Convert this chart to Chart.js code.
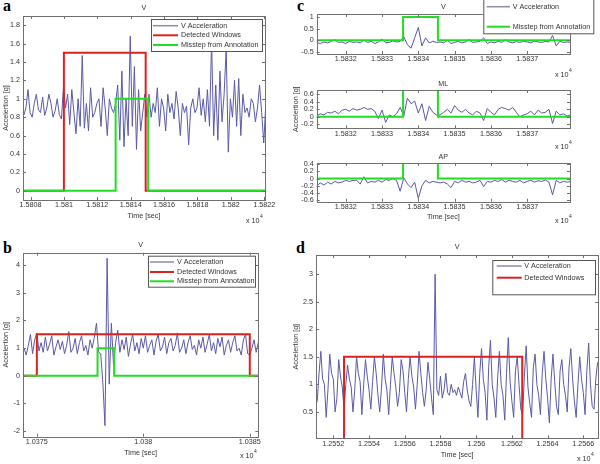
<!DOCTYPE html>
<html>
<head>
<meta charset="utf-8">
<script src="https://cdn.jsdelivr.net/npm/chart.js@4"></script>
<style>
  body { margin: 0; background: #fff; width: 600px; height: 464px; position: relative; overflow: hidden; }
  canvas { position: absolute; }
  .tag { position: absolute; font: bold 16px "Liberation Serif", "DejaVu Serif", serif; line-height: 16px; color: #000; }
</style>
</head>
<body>
<div class="tag" style="left:3px;top:-2px">a</div>
<div class="tag" style="left:3px;top:240px">b</div>
<div class="tag" style="left:297px;top:-2px">c</div>
<div class="tag" style="left:296px;top:240px">d</div>

<canvas id="chartA" width="280" height="228" style="left:0;top:0"></canvas>
<canvas id="chartB" width="280" height="227" style="left:0;top:237px"></canvas>
<canvas id="chartCV" width="310" height="80" style="left:290px;top:0"></canvas>
<canvas id="chartCML" width="310" height="74" style="left:290px;top:78px"></canvas>
<canvas id="chartCAP" width="310" height="77" style="left:290px;top:151px"></canvas>
<canvas id="chartD" width="310" height="228" style="left:290px;top:236px"></canvas>

<script>
// ---- data (time in seconds, acceleration in g) ----

// panel a
const aStart = 15807.6, aStep = 0.125;
const aAccel = [
  0.82, 0.9, 1.1, 0.85, 0.8, 0.95, 1.05, 0.88, 0.85, 1.02,
  0.82, 0.9, 1.05, 0.95, 0.8, 0.87, 1.0, 0.83, 0.78, 1.12,
  0.9, 1.05, 0.72, 1.1, 0.85, 0.62, 1.0, 0.7, 1.47, 0.68,
  0.95, 0.65, 1.12, 0.8, 0.85, 0.95, 1.0, 0.7, 1.12, 0.9,
  0.6, 1.0, 0.9, 0.85, 0.95, 1.15, 0.55, 1.3, 0.48, 1.0,
  0.6, 1.68, 0.7, 1.35, 0.45, 1.1, 0.65, 0.85, 1.05, 0.8,
  1.05, 0.8, 0.95, 0.85, 1.12, 0.7, 1.0, 0.9, 0.65, 1.05,
  0.85, 0.95, 0.78, 1.08, 0.9, 0.6, 0.95, 0.85, 0.92, 0.5,
  0.9, 1.0, 0.85, 0.9, 1.12, 0.82, 1.0, 0.75, 1.1, 0.7,
  1.63, 0.6, 1.15, 0.55, 1.3, 0.75, 1.05, 1.55, 0.42, 1.0,
  0.8, 1.2, 0.7, 1.22, 0.6, 1.05, 0.85, 0.9, 0.8, 1.0,
  0.95, 0.75, 0.9, 1.15, 0.85, 0.52, 0.95
];
const aWindow = [15810, 15814.9];
const aMisstep = [15813.1, 15815.05];
const aXTicks = [15808, 15810, 15812, 15814, 15816, 15818, 15820, 15822];
const aYTicks = [0, 0.2, 0.4, 0.6, 0.8, 1, 1.2, 1.4, 1.6, 1.8];

// panel b
const bStart = 10374.4, bStep = 0.1;
const bAccel = [
  1.0, 0.75, 1.1, 1.5, 0.8, 1.3, 1.55, 0.9, 1.2, 0.85,
  1.4, 0.9, 1.15, 1.45, 0.75, 1.05, 1.3, 0.95, 1.25, 0.8,
  1.1, 1.6, 0.85, 1.0, 1.35, 0.8, 1.2, 1.45, 0.9, 1.1,
  0.75, 1.3, 1.0, 1.4, 1.9, 0.85,
  0.8, -0.25, -1.8, 4.25, -0.3, 1.9, 0.4, 1.2, 1.65, 0.85,
  1.3, 0.95, 1.4, 0.7, 1.15, 1.5, 0.9, 1.2, 0.8, 1.35,
  1.0, 1.45, 0.85, 1.1, 1.3, 0.75, 1.25, 1.5, 0.9, 1.05,
  1.4, 0.8, 1.2, 1.35, 0.9, 1.1, 1.55, 0.85, 1.0, 1.3,
  0.8, 1.2, 1.45, 0.95, 1.1, 0.75, 1.3, 1.0, 1.4, 0.85,
  1.15, 1.5, 0.9, 1.2, 0.8, 1.35, 1.05, 1.4, 0.75, 1.1,
  1.3, 0.85, 1.2, 1.45, 0.9, 1.0, 0.75, 1.3, 1.5, 0.8,
  0.75, 1.0, 1.3, 0.85, 1.2
];
const bWindow = [10375, 10385];
const bMisstep = [10377.85, 10378.63];
const bXTicks = [10375, 10380, 10385];
const bYTicks = [-2, -1, 0, 1, 2, 3, 4];

// panel c (three axes)
const cStart = 15831.2, cStep = 0.1;
const cVAccel = [
  -0.1, -0.15, -0.08, -0.12, -0.05, 0.02, -0.1, -0.08, -0.15, -0.05, -0.1,
  -0.08, -0.12, 0.0, -0.1, -0.05, -0.15, -0.08, 0.05, -0.12, -0.1, -0.03, -0.08,
  -0.05, 0.15, -0.2, -0.35, 0.1, 0.55, -0.25, 0.1, -0.12, -0.05, -0.1,
  -0.08, -0.12, 0.0, -0.15, -0.1, -0.05, -0.12, -0.08, 0.03, -0.1, -0.08,
  -0.05, 0.1, -0.15, -0.08, -0.12, -0.05, -0.1, 0.02, -0.08, -0.12, -0.06,
  -0.1, -0.05, -0.08, -0.12, -0.04, -0.08, -0.1, -0.05, -0.08,
  0.2, -0.25, -0.05, -0.1, -0.08, -0.1
];
const cMLAccel = [
  0.02, 0.08, 0.05, 0.12, 0.1, 0.15, 0.08, 0.18, 0.2, 0.15, 0.22,
  0.18, 0.2, 0.25, 0.2, 0.22, 0.15, -0.05, 0.18, -0.15, 0.05, 0.0, 0.08,
  0.25, 0.02, 0.5, 0.35, 0.42, 0.1, 0.35, -0.1, 0.28, 0.12, 0.05,
  0.05, 0.12, 0.2, 0.1, 0.3, 0.18, 0.12, 0.2, 0.1, 0.05, 0.15,
  0.1, -0.1, 0.22, 0.12, 0.05, 0.2, 0.25, 0.22, 0.18, 0.25, 0.12,
  0.0, 0.05, 0.08, 0.15, 0.05, 0.18, 0.1, 0.12, 0.2,
  -0.18, 0.15, 0.05, 0.08, 0.02, 0.05
];
const cAPAccel = [
  -0.2, -0.12, -0.18, -0.1, -0.15, -0.08, -0.12, -0.1, -0.05, -0.08, -0.05,
  -0.05, -0.15, 0.05, -0.12, -0.08, -0.1, -0.05, -0.1, -0.03, -0.05, 0.0, -0.05,
  -0.35, 0.02, -0.15, -0.25, -0.1, -0.55, -0.2, -0.05, -0.12, -0.08, -0.1,
  -0.12, -0.1, -0.15, -0.25, -0.08, -0.12, -0.05, -0.1, -0.08, -0.12, -0.1,
  -0.05, -0.22, -0.08, -0.1, -0.05, -0.08, -0.03, -0.1, -0.05, -0.08, -0.1,
  -0.05, -0.12, -0.08, -0.05, -0.1, -0.06, -0.08, -0.04, -0.1,
  -0.45, -0.05, -0.12, -0.08, -0.1, -0.08
];
const cMisstep = [15833.58, 15834.54];
const cXTicks = [15832, 15833, 15834, 15835, 15836, 15837];
const cVYTicks = [-0.5, 0, 0.5, 1];
const cMLYTicks = [-0.2, 0, 0.2, 0.4, 0.6];
const cAPYTicks = [-0.6, -0.4, -0.2, 0, 0.2, 0.4];

// panel d
const dStart = 12551.0, dStep = 0.1;
const dAccel = [
  0.6, 0.7, 1.2, 1.6, 1.1, 1.0, 0.4, 0.9, 1.55, 1.2, 1.1, 0.5, 0.75, 1.45, 1.15, 0.95,
  0.55, 1.0, 1.35, 1.1, 0.95, 0.5, 0.9, 1.5, 1.2, 1.05, 0.45, 1.0, 1.45, 1.15, 0.9,
  0.55, 1.05, 1.5, 1.2, 0.8, 0.5, 0.95, 1.55, 1.1, 0.9, 0.45, 1.0, 1.5, 1.2, 0.95,
  0.6, 0.85, 1.45, 1.25, 0.85, 0.5, 1.1, 1.5, 1.15, 0.95, 0.55, 1.0, 1.6, 1.2, 0.85,
  0.6, 0.9, 1.4, 1.1,
  0.75, 0.45, 3.0, 0.9,
  0.8, 1.15, 0.75, 0.9, 1.2, 0.85, 0.8, 1.0, 0.85, 0.9, 0.8, 0.95, 0.85, 0.75, 1.05,
  1.2, 0.9, 0.7, 0.6, 1.0, 1.5,
  0.9, 0.4, 1.2, 1.65, 1.1, 0.85, 0.35, 1.3, 1.8, 1.0, 0.75, 0.4, 1.1, 1.6, 1.0,
  0.8, 0.35, 1.2, 1.85, 1.05, 0.7, 0.4, 1.25, 1.5, 1.0, 0.55, 0.45, 1.15, 1.7, 0.95,
  0.65, 0.4, 1.3, 1.55, 1.0, 0.8, 0.45, 1.2, 1.6, 1.1, 0.75, 0.3, 1.1, 1.55, 1.05,
  0.6, 0.45, 1.25, 1.45, 1.0, 0.8, 0.5, 1.3, 1.65, 1.1, 0.7, 0.4, 1.0, 1.5, 1.1,
  0.85, 0.45, 1.25, 1.75, 1.0, 0.6, 0.55, 1.1, 1.4
];
const dWindow = [12552.6, 12562.58];
const dXTicks = [12552, 12554, 12556, 12558, 12560, 12562, 12564, 12566];
const dYTicks = [0.5, 1, 1.5, 2, 2.5, 3];

const windowLevel = 1.5;
const misstepLevel = 1;

// ---- styling ----
const GREEN = "#22dd22";
const RED = "#dd2020";
const SIGNAL = "#5a5aa6";
const SIGNAL_KEY = "#8c8ca8";
const FONT = 7.2;
const LH = FONT * 1.2;

Chart.defaults.font.family = '"Liberation Sans", Arial, sans-serif';
Chart.defaults.font.size = FONT;
Chart.defaults.color = "#333";

function series(start, step, values) {
  return values.map((v, i) => ({ x: start + i * step, y: v }));
}

function stepLine(range, level, xMin, xMax) {
  return [
    { x: xMin, y: 0 }, { x: range[0], y: 0 }, { x: range[0], y: level },
    { x: range[1], y: level }, { x: range[1], y: 0 }, { x: xMax, y: 0 }
  ];
}

// box + inward ticks on all four sides, like matlab
const matlabFrame = {
  id: "matlabFrame",
  afterDatasetsDraw(chart) {
    const { ctx, chartArea: a, scales: { x, y } } = chart;
    ctx.save();
    ctx.strokeStyle = "#707070";
    ctx.lineWidth = 1;
    ctx.beginPath();
    x.ticks.forEach((t) => {
      const px = Math.round(x.getPixelForValue(t.value)) + 0.5;
      ctx.moveTo(px, a.bottom); ctx.lineTo(px, a.bottom - 3);
      ctx.moveTo(px, a.top); ctx.lineTo(px, a.top + 3);
    });
    y.ticks.forEach((t) => {
      const py = Math.round(y.getPixelForValue(t.value)) + 0.5;
      ctx.moveTo(a.left, py); ctx.lineTo(a.left + 3, py);
      ctx.moveTo(a.right, py); ctx.lineTo(a.right - 3, py);
    });
    ctx.stroke();
    ctx.strokeRect(Math.round(a.left) + 0.5, Math.round(a.top) + 0.5,
      Math.round(a.right - a.left), Math.round(a.bottom - a.top));
    ctx.restore();
  }
};

function legendPlugin(cfg) {
  return {
    id: "boxLegend",
    afterDraw(chart) {
      const ctx = chart.ctx;
      ctx.save();
      ctx.fillStyle = "#fff";
      ctx.fillRect(cfg.box[0], cfg.box[1], cfg.box[2], cfg.box[3]);
      ctx.strokeStyle = "#555";
      ctx.lineWidth = 1;
      ctx.strokeRect(cfg.box[0] + 0.5, cfg.box[1] + 0.5, cfg.box[2], cfg.box[3]);
      ctx.font = FONT + 'px "Liberation Sans", Arial, sans-serif';
      ctx.textBaseline = "middle";
      cfg.items.forEach((item, i) => {
        const y = cfg.rows[i];
        ctx.strokeStyle = item.color;
        ctx.lineWidth = item.width;
        ctx.beginPath();
        ctx.moveTo(cfg.line[0], y);
        ctx.lineTo(cfg.line[1], y);
        ctx.stroke();
        ctx.fillStyle = "#333";
        ctx.fillText(item.label, cfg.textX, y);
      });
      ctx.restore();
    }
  };
}

function multiplierPlugin(pos) {
  return {
    id: "multiplier",
    afterDraw(chart) {
      const ctx = chart.ctx;
      ctx.save();
      ctx.fillStyle = "#333";
      ctx.textBaseline = "middle";
      ctx.font = FONT + 'px "Liberation Sans", Arial, sans-serif';
      ctx.fillText("x 10", pos[0], pos[1]);
      const w = ctx.measureText("x 10").width;
      ctx.font = '5px "Liberation Sans", Arial, sans-serif';
      ctx.fillText("4", pos[0] + w + 0.5, pos[1] - 4.5);
      ctx.restore();
    }
  };
}

const keySignal = { label: "V Acceleration", color: SIGNAL_KEY, width: 1.5 };
const keyWindow = { label: "Detected Windows", color: RED, width: 2 };
const keyMisstep = { label: "Misstep from Annotation", color: GREEN, width: 2 };

function makeChart(id, p) {
  const canvas = document.getElementById(id);
  const datasets = [];
  if (p.misstep) {
    datasets.push({ data: stepLine(p.misstep, misstepLevel, p.xMin, p.xMax), borderColor: GREEN, borderWidth: 2 });
  }
  if (p.window) {
    datasets.push({ data: stepLine(p.window, windowLevel, p.xMin, p.xMax), borderColor: RED, borderWidth: 2 });
  }
  datasets.push({ data: p.signal, borderColor: SIGNAL, borderWidth: 1 });

  const plugins = [matlabFrame];
  if (p.legend) plugins.push(legendPlugin(p.legend));
  if (p.mult) plugins.push(multiplierPlugin(p.mult));

  return new Chart(canvas, {
    type: "line",
    data: { datasets: datasets },
    options: {
      responsive: false,
      animation: false,
      events: [],
      elements: { point: { radius: 0 }, line: { tension: 0 } },
      layout: { padding: { left: 0, top: 0, bottom: 0, right: p.padRight } },
      plugins: {
        legend: { display: false },
        tooltip: { enabled: false },
        title: {
          display: true,
          text: p.title,
          fullSize: false,
          color: "#333",
          font: { size: FONT, weight: "normal" },
          padding: { top: p.titleY - LH / 2, bottom: p.plotTop - p.titleY - LH / 2 }
        }
      },
      scales: {
        x: {
          type: "linear",
          min: p.xMin,
          max: p.xMax,
          afterBuildTicks: (s) => { s.ticks = p.xTicks.map((v) => ({ value: v })); },
          afterFit: (s) => { s.height = canvas.height - p.plotBottom; },
          grid: { display: false, drawTicks: false },
          border: { display: false },
          ticks: { autoSkip: false, maxRotation: 0, padding: 1, callback: (v) => String(v / 1e4) },
          title: {
            display: !!p.xTitleY,
            text: "Time [sec]",
            color: "#333",
            padding: { top: 0, bottom: canvas.height - (p.xTitleY || 0) - LH / 2 }
          }
        },
        y: {
          type: "linear",
          min: p.yMin,
          max: p.yMax,
          afterBuildTicks: (s) => { s.ticks = p.yTicks.map((v) => ({ value: v })); },
          afterFit: (s) => { s.width = p.plotLeft; },
          grid: { display: false, drawTicks: false },
          border: { display: false },
          ticks: { autoSkip: false, padding: 3, callback: (v) => String(v) },
          title: {
            display: !!p.yTitle,
            text: "Accelertion [g]",
            color: "#333",
            padding: { top: 6 - LH / 2, bottom: 0 }
          }
        }
      }
    },
    plugins: plugins
  });
}

makeChart("chartA", {
  signal: series(aStart, aStep, aAccel), window: aWindow, misstep: aMisstep,
  xMin: 15807.55, xMax: 15822.05, yMin: -0.1, yMax: 1.9,
  xTicks: aXTicks, yTicks: aYTicks,
  plotLeft: 23, plotTop: 16, plotBottom: 200, padRight: 15,
  title: "V", titleY: 8, xTitleY: 216, yTitle: true,
  legend: { box: [151, 19, 111, 32], rows: [25.7, 35.3, 45], line: [153, 178], textX: 181,
            items: [keySignal, keyWindow, keyMisstep] },
  mult: [246, 221]
});

makeChart("chartB", {
  signal: series(bStart, bStep, bAccel), window: bWindow, misstep: bMisstep,
  xMin: 10374.35, xMax: 10385.4, yMin: -2.2, yMax: 4.45,
  xTicks: bXTicks, yTicks: bYTicks,
  plotLeft: 23, plotTop: 15.7, plotBottom: 199.7, padRight: 21.7,
  title: "V", titleY: 8, xTitleY: 215.7, yTitle: true,
  legend: { box: [148, 18.7, 107, 31], rows: [25, 35, 44.3], line: [150, 174], textX: 177,
            items: [keySignal, keyWindow, keyMisstep] },
  mult: [240, 219]
});

makeChart("chartCV", {
  signal: series(cStart, cStep, cVAccel), misstep: cMisstep,
  xMin: 15831.2, xMax: 15838.18, yMin: -0.6, yMax: 1.13,
  xTicks: cXTicks, yTicks: cVYTicks,
  plotLeft: 26.7, plotTop: 14, plotBottom: 54, padRight: 30,
  title: "V", titleY: 7,
  legend: { box: [193.3, -1, 110, 34.3], rows: [6.7, 26.7], line: [196.7, 220], textX: 222.7,
            items: [keySignal, keyMisstep] },
  mult: [265, 75]
});

makeChart("chartCML", {
  signal: series(cStart, cStep, cMLAccel), misstep: cMisstep,
  xMin: 15831.2, xMax: 15838.18, yMin: -0.31, yMax: 0.72,
  xTicks: cXTicks, yTicks: cMLYTicks,
  plotLeft: 26.7, plotTop: 12, plotBottom: 50.3, padRight: 30,
  title: "ML", titleY: 6, yTitle: true,
  mult: [265, 69]
});

makeChart("chartCAP", {
  signal: series(cStart, cStep, cAPAccel), misstep: cMisstep,
  xMin: 15831.2, xMax: 15838.18, yMin: -0.64, yMax: 0.43,
  xTicks: cXTicks, yTicks: cAPYTicks,
  plotLeft: 26.7, plotTop: 12, plotBottom: 50.7, padRight: 30,
  title: "AP", titleY: 6, xTitleY: 66,
  mult: [265, 70]
});

makeChart("chartD", {
  signal: series(dStart, dStep, dAccel), window: dWindow,
  xMin: 12551.03, xMax: 12566.84, yMin: 0.02, yMax: 3.35,
  xTicks: dXTicks, yTicks: dYTicks,
  plotLeft: 26, plotTop: 19, plotBottom: 202.3, padRight: 1.7,
  title: "V", titleY: 11, xTitleY: 219, yTitle: true,
  legend: { box: [202.3, 24, 102.7, 34.3], rows: [30, 41.7], line: [206.7, 231.7], textX: 234.3,
            items: [keySignal, keyWindow] },
  mult: [287, 223]
});
</script>
</body>
</html>
